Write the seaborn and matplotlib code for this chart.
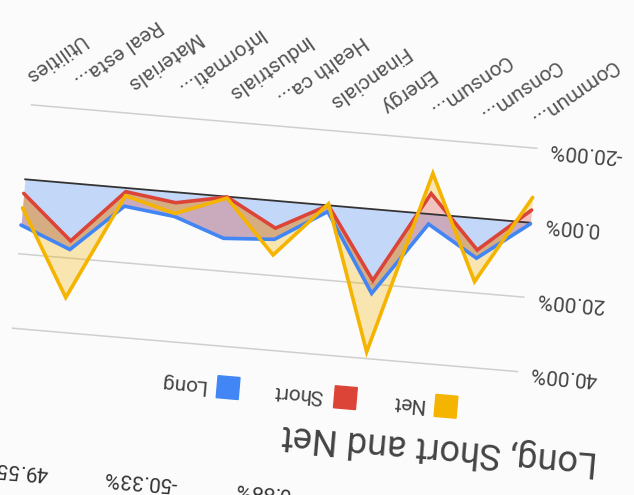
import numpy as np
import pandas as pd
import matplotlib
matplotlib.use("Agg")
import matplotlib.pyplot as plt
import seaborn as sns
from matplotlib.patches import Rectangle
from matplotlib.transforms import Affine2D

# values (%) (stacked area chart), left to right as in the unrotated chart
sectors = ["Commun...", "Consum...", "Consum...", "Energy", "Financials", "Health ca...",
           "Industrials", "Informati...", "Materials", "Real esta...", "Utilities"]
long_vals = [0.3, 10.7, 2.7, 22.5, 1.7, 10.3, 11.2, 6.5, 4.9, 17.7, 12.3]
short_vals = [-3.7, -2.2, -8.2, -3.5, -1.7, -3.0, -11.1, -3.7, -3.9, -2.3, -8.5]
net_vals = [-3.4, 8.5, -5.4, 19.2, -0.4, 7.2, 0.3, 2.9, 1.1, 15.2, 3.9]
y_ticks = [-20, 0, 20, 40]
series_names = ["Long", "Short", "Net"]
legend_order = ["Net", "Short", "Long"]
table_texts = ["49.55%", "-50.33%", "0.88%"]

colors = {"Long": "#4285F4", "Short": "#DB4437", "Net": "#F4B400"}

sns.set_style("white")
plt.rcParams["font.family"] = ["Roboto", "DejaVu Sans"]

W, H = 634, 495
fig = plt.figure(figsize=(W / 100, H / 100), dpi=100)
fig.patch.set_facecolor("#fbfbfb")
ax = fig.add_axes([0, 0, 1, 1])
ax.set_axis_off()

# the screenshot is upside down and a bit tilted -> rotate everything in display space
px_cat = 50.74      # px per category step
px_pct = 3.736      # px per 1 %
cx, cy = 277.75, 294.0   # pivot: middle category on the zero line
ang = 175.09
x = np.arange(len(sectors))
x_mid = (len(sectors) - 1) / 2
tr = ax.transData + Affine2D().rotate_deg_around(cx, cy, ang)

# stacking
stack = np.cumsum([long_vals, short_vals, net_vals], axis=0)
lower = np.vstack([np.zeros(len(sectors)), stack[:-1]])

df = pd.DataFrame({
    "pos": np.tile(x, 3),
    "value": stack.ravel(),
    "series": np.repeat(series_names, len(sectors)),
})

# gridlines
for t in y_ticks:
    if t != 0:
        ax.plot([x[0], x[-1]], [t, t], color="#cfcfcf", lw=1.1, transform=tr, zorder=1)

# filled areas between stacked lines
for k, name in enumerate(series_names):
    ax.fill_between(x, lower[k], stack[k], color=colors[name], alpha=0.3, lw=0,
                    transform=tr, zorder=2)

# baseline
ax.plot([x[0], x[-1]], [0, 0], color="#333333", lw=1.3, transform=tr, zorder=3)

sns.lineplot(data=df, x="pos", y="value", hue="series", hue_order=series_names,
             palette=colors, sort=False, errorbar=None, legend=False, linewidth=2.6,
             solid_joinstyle="miter", transform=tr, zorder=4, ax=ax)

# axis labels
for t in y_ticks:
    ax.text(-0.24, t, f"{t:.2f}%", transform=tr, rotation=ang, rotation_mode="anchor",
            ha="right", va="center", fontsize=15, color="#444444")
for i, s in enumerate(sectors):
    ax.text(i + 0.15, -27, s, transform=tr, rotation=ang + 40, rotation_mode="anchor",
            ha="right", va="center", fontsize=15, color="#555555")

# title and legend
ax.text(-1.71, 59.6, "Long, Short and Net", transform=tr, rotation=ang,
        rotation_mode="anchor", ha="left", va="baseline", fontsize=26, color="#444444")
sq_w, sq_h = 22 / px_cat, 22 / px_pct
for pos, name in zip([1.35, 3.34, 5.66], legend_order):
    ax.add_patch(Rectangle((pos - sq_w / 2, 50.9 - sq_h / 2), sq_w, sq_h, color=colors[name],
                           transform=tr, clip_on=False, zorder=5))
    ax.text(pos + 0.44, 50.9, name, transform=tr, rotation=ang, rotation_mode="anchor",
            ha="left", va="center", fontsize=15, color="#444444")

# bits of the table above the chart (cut off by the frame)
for pos, s in zip([9.06, 6.49, 4.28], table_texts):
    ax.text(pos, 76.2, s, transform=tr, rotation=ang, rotation_mode="anchor",
            ha="left", va="baseline", fontsize=15, color="#333333")

ax.set_xlim(x_mid - cx / px_cat, x_mid + (W - cx) / px_cat)
ax.set_ylim(-cy / px_pct, (H - cy) / px_pct)

plt.savefig("out.png", dpi=100, facecolor=fig.get_facecolor())
